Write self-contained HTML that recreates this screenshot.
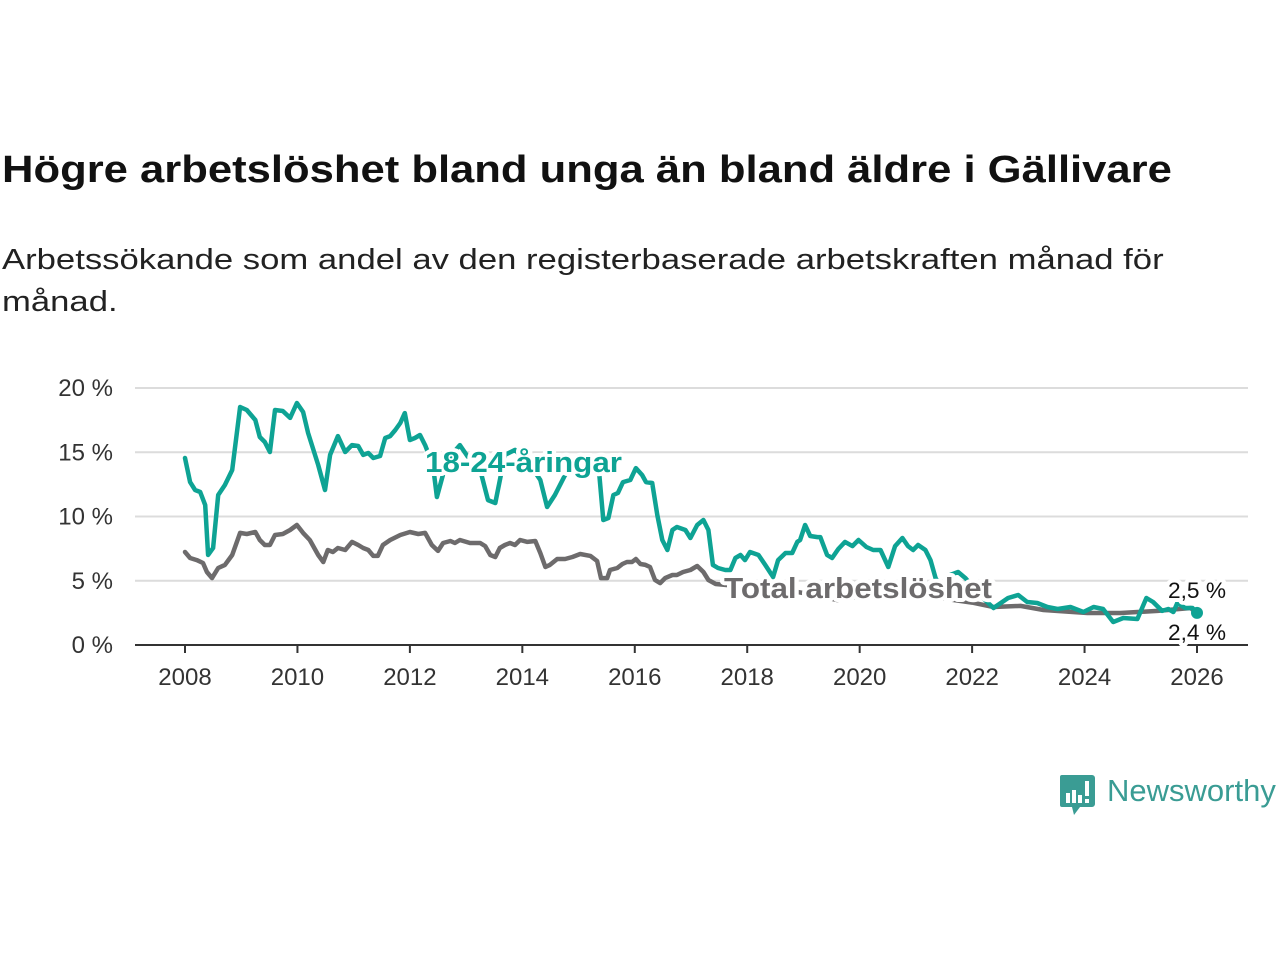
<!DOCTYPE html>
<html><head><meta charset="utf-8"><style>
body{margin:0;width:1280px;height:960px;background:#fff;font-family:"Liberation Sans","DejaVu Sans",sans-serif;overflow:hidden;position:relative}
.t{position:absolute;left:2px;margin:0;transform-origin:0 0;white-space:nowrap}
</style></head><body>
<h1 class="t" style="top:149px;font-size:38px;font-weight:bold;color:#111;transform:scaleX(1.147)">Högre arbetslöshet bland unga än bland äldre i Gällivare</h1>
<p class="t" style="top:239px;font-size:29px;line-height:42px;color:#222;transform:scaleX(1.195)">Arbetssökande som andel av den registerbaserade arbetskraften månad för<br>månad.</p>
<svg id="chart" width="1280" height="960" style="position:absolute;left:0;top:0" xmlns="http://www.w3.org/2000/svg"></svg>
<div style="position:absolute;left:1060px;top:775px;height:42px">
<svg width="36" height="42" style="position:absolute;left:0;top:0"><path d="M2 0h30a3 3 0 0 1 3 3v26a3 3 0 0 1-3 3H20l-6 8-2-8H2a2 2 0 0 1-2-2V2a2 2 0 0 1 2-2z" fill="#3a9c94"/><rect x="6" y="18" width="4" height="10" fill="#fff"/><rect x="12" y="15" width="4" height="13" fill="#fff"/><rect x="18" y="20" width="4" height="8" fill="#fff"/><rect x="25" y="6" width="4" height="15" fill="#fff"/><rect x="25" y="24" width="4" height="4" fill="#fff"/></svg>
<span style="position:absolute;left:47px;top:-2px;font-size:31px;color:#3a9c94;white-space:nowrap">Newsworthy</span></div>
<script>
const yTicks=[0,5,10,15,20];
const yTickLabels=["0 %","5 %","10 %","15 %","20 %"];
const xTicks=[2008,2010,2012,2014,2016,2018,2020,2022,2024,2026];
const youthDates=[2008.00,2008.09,2008.18,2008.27,2008.36,2008.41,2008.50,2008.59,2008.71,2008.84,2008.98,2009.10,2009.25,2009.33,2009.42,2009.51,2009.60,2009.74,2009.87,2009.99,2010.10,2010.19,2010.37,2010.49,2010.58,2010.72,2010.85,2010.97,2011.08,2011.17,2011.26,2011.35,2011.47,2011.56,2011.65,2011.74,2011.83,2011.91,2012.00,2012.09,2012.18,2012.27,2012.41,2012.48,2012.66,2012.89,2013.07,2013.25,2013.39,2013.52,2013.69,2013.87,2014.14,2014.32,2014.44,2014.58,2014.76,2014.94,2015.21,2015.35,2015.44,2015.53,2015.62,2015.70,2015.79,2015.92,2016.02,2016.13,2016.20,2016.31,2016.40,2016.49,2016.58,2016.67,2016.75,2016.90,2016.99,2017.11,2017.22,2017.31,2017.39,2017.48,2017.61,2017.70,2017.79,2017.88,2017.96,2018.05,2018.20,2018.32,2018.46,2018.55,2018.68,2018.80,2018.89,2018.94,2019.03,2019.12,2019.25,2019.30,2019.42,2019.51,2019.62,2019.74,2019.87,2019.98,2020.12,2020.24,2020.37,2020.51,2020.63,2020.76,2020.86,2020.95,2021.04,2021.17,2021.26,2021.35,2021.47,2021.61,2021.75,2021.88,2022.06,2022.23,2022.38,2022.64,2022.82,2022.98,2023.16,2023.34,2023.52,2023.75,2023.98,2024.16,2024.33,2024.51,2024.69,2024.94,2025.10,2025.22,2025.38,2025.49,2025.58,2025.65,2025.79,2025.92,2026.00];
const youthValues=[14.55,12.68,12.06,11.91,10.89,7.00,7.55,11.67,12.45,13.62,18.52,18.29,17.51,16.19,15.80,15.02,18.29,18.21,17.67,18.83,18.13,16.50,14.01,12.06,14.79,16.26,15.02,15.56,15.49,14.79,14.94,14.55,14.71,16.11,16.26,16.73,17.28,18.05,15.95,16.11,16.34,15.56,14.01,11.52,14.40,15.56,14.40,13.62,11.28,11.05,14.79,15.18,14.01,12.84,10.74,11.67,13.23,14.01,14.24,14.24,9.73,9.88,11.67,11.83,12.68,12.84,13.77,13.23,12.68,12.61,10.12,8.17,7.39,8.95,9.18,8.95,8.33,9.34,9.73,8.95,6.23,5.99,5.84,5.84,6.77,7.00,6.61,7.24,7.00,6.23,5.29,6.61,7.16,7.16,8.02,8.17,9.34,8.48,8.40,8.40,7.00,6.77,7.47,8.02,7.70,8.17,7.63,7.39,7.39,6.07,7.70,8.33,7.70,7.39,7.78,7.39,6.61,5.21,4.28,5.45,5.68,5.21,4.28,3.50,2.88,3.66,3.89,3.35,3.27,2.96,2.80,2.96,2.57,2.96,2.80,1.79,2.10,2.02,3.66,3.35,2.65,2.80,2.57,3.27,2.88,2.88,2.50];
const totalDates=[2008.00,2008.09,2008.21,2008.32,2008.39,2008.48,2008.59,2008.71,2008.84,2008.98,2009.10,2009.25,2009.33,2009.42,2009.51,2009.60,2009.74,2009.87,2009.99,2010.10,2010.22,2010.37,2010.46,2010.54,2010.63,2010.72,2010.85,2010.97,2011.08,2011.17,2011.26,2011.35,2011.43,2011.52,2011.65,2011.83,2012.00,2012.15,2012.27,2012.39,2012.50,2012.59,2012.72,2012.80,2012.89,2013.07,2013.25,2013.34,2013.43,2013.52,2013.60,2013.69,2013.78,2013.87,2013.96,2014.09,2014.23,2014.32,2014.41,2014.49,2014.62,2014.76,2014.89,2015.03,2015.21,2015.33,2015.40,2015.51,2015.56,2015.69,2015.78,2015.86,2015.95,2016.02,2016.10,2016.19,2016.27,2016.36,2016.45,2016.54,2016.67,2016.75,2016.86,2016.99,2017.11,2017.22,2017.31,2017.44,2017.8,2018.3,2018.8,2019.3,2019.6,2020.0,2020.5,2021.0,2021.5,2022.0,2022.38,2022.86,2023.27,2024.05,2024.64,2025.30,2025.89,2026.00];
const totalValues=[7.24,6.77,6.61,6.38,5.68,5.21,5.99,6.23,7.00,8.72,8.64,8.79,8.17,7.78,7.78,8.56,8.64,8.95,9.34,8.72,8.17,7.00,6.46,7.39,7.24,7.55,7.39,8.02,7.78,7.55,7.39,6.93,6.93,7.78,8.17,8.56,8.79,8.64,8.72,7.78,7.32,7.94,8.09,7.94,8.17,7.94,7.94,7.70,7.00,6.85,7.55,7.78,7.94,7.78,8.17,8.02,8.09,7.16,6.07,6.23,6.69,6.69,6.85,7.08,6.93,6.54,5.21,5.21,5.84,5.99,6.30,6.46,6.46,6.69,6.30,6.23,6.07,5.06,4.82,5.21,5.45,5.45,5.68,5.84,6.15,5.68,5.06,4.75,4.6,4.4,4.2,3.8,3.5,3.8,4.0,3.9,3.6,3.3,2.96,3.04,2.72,2.49,2.49,2.65,2.88,2.41];

const NS="http://www.w3.org/2000/svg";
const svg=document.getElementById('chart');
const X0=185,X1=1197,T0=2008,T1=2026,Y0=645,Y20=388;
const xs=t=>X0+(t-T0)*(X1-X0)/(T1-T0);
const ys=v=>Y0-v*(Y0-Y20)/20;
function mk(tag,attrs){const e=document.createElementNS(NS,tag);for(const k in attrs)e.setAttribute(k,attrs[k]);svg.appendChild(e);return e;}
yTicks.forEach((v,i)=>{
  if(v>0){const g=mk('line',{x1:135,x2:1248,y1:ys(v),y2:ys(v),stroke:'#dcdcdc','stroke-width':2});
  
  }
  const t=mk('text',{x:113,y:ys(v)+8,'text-anchor':'end','font-size':24,fill:'#333'});
  
  
  t.textContent=yTickLabels[i];
});
const ax=mk('line',{x1:135,x2:1248,y1:Y0,y2:Y0,stroke:'#333','stroke-width':2});


xTicks.forEach(yr=>{
  const tk=mk('line',{x1:xs(yr),x2:xs(yr),y1:Y0,y2:Y0+8,stroke:'#333','stroke-width':2});
  
  
  const t=mk('text',{x:xs(yr),y:685,'text-anchor':'middle','font-size':24,fill:'#333'});
  
  
  t.textContent=yr;
});
function line(d,v,col,name){
  const p=mk('path',{d:d.map((t,i)=>(i?'L':'M')+xs(t).toFixed(1)+' '+ys(v[i]).toFixed(1)).join(''),fill:'none',stroke:col,'stroke-width':4.5,'stroke-linejoin':'round','stroke-linecap':'round'});
  
  
}
line(totalDates,totalValues,'#6d6b6c','total-line');
line(youthDates,youthValues,'#0ea394','youth-line');
const dot=mk('circle',{cx:xs(youthDates[youthDates.length-1]),cy:ys(youthValues[youthValues.length-1]),r:6,fill:'#0ea394'});


function label(x,y,txt,col,size,bold,len,name){
  const a={x:x,y:y,'font-size':size,'font-weight':bold?'bold':'normal',fill:col,stroke:'#fff','stroke-width':8,'stroke-linejoin':'round','paint-order':'stroke'};
  if(len){a.textLength=len;a.lengthAdjust='spacingAndGlyphs';}
  const t=mk('text',a);
  
  
  t.textContent=txt;
}
label(425,472,'18-24-åringar','#0ea394',29,true,197,'youth-series-label');
label(724,598,'Total arbetslöshet','#6d6b6c',29,true,268,'total-series-label');
label(1168,598,'2,5 %','#111',22,false,58,'youth-end-value');
label(1168,640,'2,4 %','#111',22,false,58,'total-end-value');
</script>
</body></html>
